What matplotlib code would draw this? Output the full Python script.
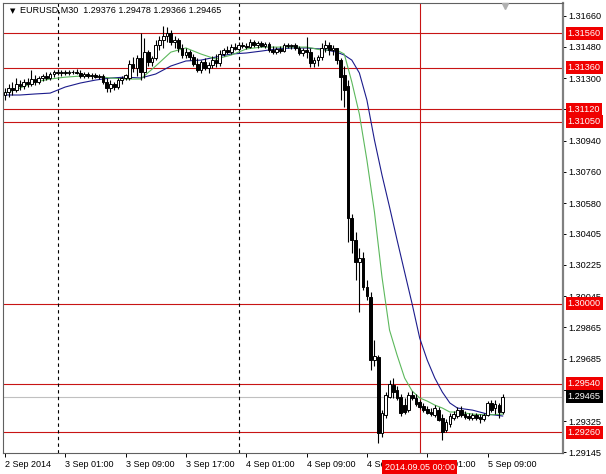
import numpy as np
import pandas as pd
import matplotlib
matplotlib.use("Agg")
import matplotlib.pyplot as plt
import matplotlib.transforms as mtransforms

plt.rcParams['font.family'] = ['Liberation Sans', 'DejaVu Sans']

symbol = "EURUSD,M30"
start_time = "2014-09-02 17:00"

opens = [1.31203, 1.31220, 1.31243, 1.31232, 1.31266, 1.31255, 1.31278, 1.31266, 1.31295, 1.31278,
         1.31301, 1.31312, 1.31301, 1.31324, 1.31335, 1.31330, 1.31335, 1.31330, 1.31335, 1.31333,
         1.31330, 1.31312, 1.31324, 1.31312, 1.31318, 1.31306, 1.31312, 1.31278, 1.31243, 1.31266,
         1.31249, 1.31289, 1.31301, 1.31301, 1.31381, 1.31358, 1.31416, 1.31335, 1.31450, 1.31393,
         1.31416, 1.31491, 1.31520, 1.31543, 1.31560, 1.31508, 1.31520, 1.31474, 1.31433, 1.31450,
         1.31422, 1.31381, 1.31347, 1.31393, 1.31358, 1.31376, 1.31404, 1.31387, 1.31439, 1.31462,
         1.31450, 1.31479, 1.31468, 1.31491, 1.31485, 1.31479, 1.31508, 1.31491, 1.31502, 1.31485,
         1.31497, 1.31462, 1.31450, 1.31468, 1.31456, 1.31491, 1.31485, 1.31491, 1.31474, 1.31445,
         1.31462, 1.31450, 1.31387, 1.31404, 1.31422, 1.31474, 1.31491, 1.31462, 1.31474, 1.31404,
         1.31318, 1.31255, 1.30494, 1.30368, 1.30241, 1.30264, 1.30097, 1.30039, 1.29676, 1.29694,
         1.29256, 1.29360, 1.29463, 1.29532, 1.29504, 1.29463, 1.29417, 1.29388, 1.29475, 1.29458,
         1.29434, 1.29411, 1.29394, 1.29377, 1.29360, 1.29388, 1.29342, 1.29273, 1.29308, 1.29342,
         1.29354, 1.29388, 1.29365, 1.29354, 1.29342, 1.29360, 1.29348, 1.29337, 1.29360, 1.29429,
         1.29400, 1.29417, 1.29376]
highs = [1.31243, 1.31266, 1.31278, 1.31301, 1.31289, 1.31295, 1.31301, 1.31347, 1.31318, 1.31312,
         1.31324, 1.31335, 1.31335, 1.31347, 1.31353, 1.31347, 1.31347, 1.31347, 1.31347, 1.31353,
         1.31347, 1.31335, 1.31335, 1.31330, 1.31330, 1.31324, 1.31324, 1.31301, 1.31289, 1.31278,
         1.31301, 1.31312, 1.31324, 1.31404, 1.31422, 1.31433, 1.31560, 1.31531, 1.31462, 1.31427,
         1.31520, 1.31543, 1.31600, 1.31594, 1.31577, 1.31543, 1.31531, 1.31497, 1.31474, 1.31462,
         1.31439, 1.31416, 1.31404, 1.31416, 1.31393, 1.31427, 1.31439, 1.31462, 1.31474, 1.31485,
         1.31497, 1.31502, 1.31508, 1.31508, 1.31502, 1.31525, 1.31520, 1.31514, 1.31514, 1.31508,
         1.31508, 1.31485, 1.31479, 1.31485, 1.31502, 1.31502, 1.31497, 1.31502, 1.31485, 1.31474,
         1.31537, 1.31474, 1.31422, 1.31433, 1.31502, 1.31520, 1.31508, 1.31491, 1.31474, 1.31416,
         1.31370, 1.31289, 1.30517, 1.30414, 1.30322, 1.30299, 1.30137, 1.30068, 1.29792, 1.29705,
         1.29388, 1.29492, 1.29561, 1.29573, 1.29527, 1.29481, 1.29458, 1.29492, 1.29498, 1.29481,
         1.29446, 1.29429, 1.29411, 1.29400, 1.29417, 1.29406, 1.29365, 1.29337, 1.29371, 1.29383,
         1.29406, 1.29411, 1.29383, 1.29371, 1.29371, 1.29371, 1.29365, 1.29371, 1.29440, 1.29446,
         1.29446, 1.29429, 1.29478]
lows = [1.31174, 1.31191, 1.31203, 1.31220, 1.31232, 1.31237, 1.31249, 1.31255, 1.31260, 1.31266,
        1.31283, 1.31289, 1.31289, 1.31306, 1.31318, 1.31312, 1.31318, 1.31318, 1.31324, 1.31324,
        1.31301, 1.31301, 1.31301, 1.31295, 1.31301, 1.31295, 1.31266, 1.31220, 1.31220, 1.31232,
        1.31237, 1.31266, 1.31289, 1.31289, 1.31335, 1.31312, 1.31289, 1.31301, 1.31370, 1.31370,
        1.31404, 1.31462, 1.31474, 1.31508, 1.31491, 1.31474, 1.31450, 1.31416, 1.31416, 1.31404,
        1.31370, 1.31335, 1.31330, 1.31347, 1.31330, 1.31358, 1.31364, 1.31370, 1.31427, 1.31439,
        1.31439, 1.31462, 1.31462, 1.31474, 1.31468, 1.31474, 1.31479, 1.31474, 1.31479, 1.31474,
        1.31450, 1.31439, 1.31439, 1.31445, 1.31450, 1.31474, 1.31468, 1.31462, 1.31433, 1.31427,
        1.31416, 1.31364, 1.31364, 1.31370, 1.31404, 1.31450, 1.31433, 1.31433, 1.31381, 1.31174,
        1.31134, 1.30356, 1.30293, 1.30137, 1.29953, 1.30080, 1.30022, 1.29619, 1.29642, 1.29198,
        1.29233, 1.29342, 1.29458, 1.29458, 1.29446, 1.29354, 1.29365, 1.29377, 1.29446, 1.29411,
        1.29394, 1.29377, 1.29365, 1.29354, 1.29348, 1.29325, 1.29216, 1.29262, 1.29290, 1.29331,
        1.29342, 1.29348, 1.29337, 1.29331, 1.29331, 1.29331, 1.29314, 1.29325, 1.29354, 1.29377,
        1.29365, 1.29342, 1.29366]
closes = [1.31220, 1.31243, 1.31232, 1.31266, 1.31255, 1.31278, 1.31266, 1.31295, 1.31278, 1.31301,
          1.31312, 1.31301, 1.31324, 1.31335, 1.31330, 1.31335, 1.31330, 1.31335, 1.31333, 1.31330,
          1.31312, 1.31324, 1.31312, 1.31318, 1.31306, 1.31312, 1.31278, 1.31243, 1.31266, 1.31249,
          1.31289, 1.31301, 1.31318, 1.31381, 1.31358, 1.31416, 1.31335, 1.31450, 1.31393, 1.31416,
          1.31491, 1.31520, 1.31543, 1.31560, 1.31508, 1.31520, 1.31474, 1.31433, 1.31450, 1.31422,
          1.31381, 1.31347, 1.31393, 1.31358, 1.31376, 1.31404, 1.31387, 1.31439, 1.31462, 1.31450,
          1.31479, 1.31468, 1.31491, 1.31485, 1.31479, 1.31508, 1.31491, 1.31502, 1.31485, 1.31497,
          1.31462, 1.31450, 1.31468, 1.31456, 1.31491, 1.31485, 1.31491, 1.31474, 1.31445, 1.31462,
          1.31450, 1.31387, 1.31404, 1.31422, 1.31474, 1.31491, 1.31462, 1.31474, 1.31404, 1.31306,
          1.31232, 1.30494, 1.30368, 1.30241, 1.30264, 1.30097, 1.30045, 1.29676, 1.29699, 1.29256,
          1.29371, 1.29475, 1.29538, 1.29492, 1.29458, 1.29371, 1.29377, 1.29475, 1.29458, 1.29423,
          1.29406, 1.29388, 1.29371, 1.29365, 1.29400, 1.29331, 1.29262, 1.29319, 1.29354, 1.29365,
          1.29388, 1.29360, 1.29348, 1.29342, 1.29360, 1.29342, 1.29337, 1.29360, 1.29429, 1.29388,
          1.29423, 1.29377, 1.29465]

ma_bars = [0, 4, 8, 12, 16, 20, 24, 28, 32, 36, 40, 44, 48, 52, 56, 60, 64, 68, 72, 76, 80, 84, 88,
           90, 92, 94, 96, 98, 100, 102, 104, 106, 108, 110, 112, 114, 116, 118, 120, 124, 128, 132]
ma_fast = [1.31214, 1.31243, 1.31278, 1.31295, 1.31306, 1.31312, 1.31312, 1.31301, 1.31295, 1.31295,
           1.31370, 1.31450, 1.31474, 1.31439, 1.31410, 1.31433, 1.31468, 1.31479, 1.31479, 1.31479,
           1.31479, 1.31462, 1.31462, 1.31439, 1.31278, 1.31093, 1.30828, 1.30529, 1.30155, 1.29849,
           1.29705, 1.29573, 1.29498, 1.29458, 1.29440, 1.29417, 1.29400, 1.29377, 1.29377, 1.29365,
           1.29360, 1.29365]
ma_slow = [1.31203, 1.31203, 1.31209, 1.31214, 1.31249, 1.31272, 1.31289, 1.31301, 1.31306, 1.31301,
           1.31324, 1.31370, 1.31399, 1.31404, 1.31422, 1.31439, 1.31445, 1.31456, 1.31468, 1.31474,
           1.31474, 1.31468, 1.31450, 1.31433, 1.31404, 1.31330, 1.31174, 1.30944, 1.30742, 1.30558,
           1.30368, 1.30183, 1.29999, 1.29803, 1.29676, 1.29573, 1.29492, 1.29429, 1.29400, 1.29388,
           1.29365, 1.29354]

red_levels = [1.31560, 1.31360, 1.31120, 1.31050, 1.30000, 1.29540, 1.29260]
price_ticks = [1.31660, 1.31480, 1.31300, 1.31120, 1.30940, 1.30760, 1.30580, 1.30405,
               1.30225, 1.30045, 1.29865, 1.29685, 1.29505, 1.29325, 1.29145]
x_tick_labels = ["2 Sep 2014", "3 Sep 01:00", "3 Sep 09:00", "3 Sep 17:00", "4 Sep 01:00",
                 "4 Sep 09:00", "4 Sep 17:00", "5 Sep 01:00", "5 Sep 09:00"]
x_tick_times = ["2014-09-02 17:00", "2014-09-03 01:00", "2014-09-03 09:00", "2014-09-03 17:00",
                "2014-09-04 01:00", "2014-09-04 09:00", "2014-09-04 17:00", "2014-09-05 01:00",
                "2014-09-05 09:00"]
day_separators = ["2014-09-03 00:00", "2014-09-04 00:00"]
marker_time = "2014-09-05 00:00"
marker_label = "2014.09.05 00:00"

o = np.array(opens); h = np.array(highs); l = np.array(lows); c = np.array(closes)
n = len(c)
times = pd.date_range(start_time, periods=n, freq="30min")
pos = {t: i for i, t in enumerate(times)}
def bar_of(s):
    return pos[pd.Timestamp(s)]

fig = plt.figure(figsize=(6.06, 4.74), dpi=100)
fig.patch.set_facecolor("white")
ax = fig.add_axes([3 / 606, 21 / 474, 560 / 606, 450 / 474])
ax.set_facecolor("white")
ax.set_xlim(-0.5, 148.0)
ax.set_ylim(1.29141, 1.31733)

line_red = "#C81414"
box_red = "#F00000"

# horizontal levels
for lv in red_levels:
    ax.axhline(lv, color=line_red, lw=0.8, zorder=1)
ax.axhline(c[-1], color="#C0C0C0", lw=0.8, zorder=1)

# day separators
for d in day_separators:
    ax.axvline(bar_of(d), color="black", lw=0.8, ls=(0, (3, 3)), zorder=1)
ax.axvline(bar_of(marker_time), color=line_red, lw=0.8, zorder=1)

# moving averages
ax.plot(ma_bars, ma_slow, color="#1C1C8C", lw=0.8, zorder=2)
ax.plot(ma_bars, ma_fast, color="#5CB85C", lw=0.8, zorder=2)

# candles
idx = np.arange(n)
up = c >= o
ax.vlines(idx, l, h, color="black", lw=0.8, zorder=3)
ax.bar(idx, np.abs(c - o), bottom=np.minimum(o, c), width=0.72,
       color=np.where(up, "white", "black"), edgecolor="black", lw=0.7, zorder=4)

# axes styling
for s in ax.spines.values():
    s.set_color("#606060")
    s.set_linewidth(0.8)
ax.spines["right"].set_color("#808080")
ax.spines["right"].set_linewidth(1.6)

ax.yaxis.tick_right()
ax.set_yticks(price_ticks)
ax.set_yticklabels([f"{p:.5f}" for p in price_ticks])
ax.tick_params(axis="y", direction="out", length=2.5, width=0.7, pad=1.5,
               labelsize=6.6, colors="black")

xt = [bar_of(t) for t in x_tick_times]
ax.set_xticks(xt)
ax.set_xticklabels(x_tick_labels)
ax.tick_params(axis="x", direction="out", length=3, width=0.7, pad=2,
               labelsize=6.5, colors="black")
for lab in ax.get_xticklabels():
    lab.set_ha("left")

# right side price boxes
ytr = mtransforms.blended_transform_factory(ax.transAxes, ax.transData)
for lv in red_levels:
    ax.text(1.0085, lv, f"{lv:.5f}", transform=ytr, ha="left", va="center",
            fontsize=6.6, color="white", zorder=10, clip_on=False,
            bbox=dict(boxstyle="square,pad=0.22", fc=box_red, ec="none"))
ax.text(1.0085, c[-1], f"{c[-1]:.5f}", transform=ytr, ha="left", va="center",
        fontsize=6.6, color="white", zorder=10, clip_on=False,
        bbox=dict(boxstyle="square,pad=0.22", fc="black", ec="none"))

# bottom time box
xtr = mtransforms.blended_transform_factory(ax.transData, ax.transAxes)
ax.text(bar_of(marker_time), -0.0215, marker_label, transform=xtr, ha="center", va="top",
        fontsize=6.5, color="white", zorder=10, clip_on=False,
        bbox=dict(boxstyle="square,pad=0.25", fc=box_red, ec="none"))

# title
ax.text(0.012, 0.983, "\u25BC", transform=ax.transAxes, ha="left", va="center",
        fontsize=5, color="black", family=["DejaVu Sans"])
ax.text(0.030, 0.983,
        f"{symbol}  {o[-1]:.5f} {h[-1]:.5f} {l[-1]:.5f} {c[-1]:.5f}",
        transform=ax.transAxes, ha="left", va="center", fontsize=6.5, color="black")

# chart-shift marker
ax.plot([n - 0.5], [0.994], marker="v", color="#B0B0B0", ms=4, clip_on=False, zorder=5,
        transform=xtr)

fig.savefig("out.png", dpi=100, facecolor="white")
